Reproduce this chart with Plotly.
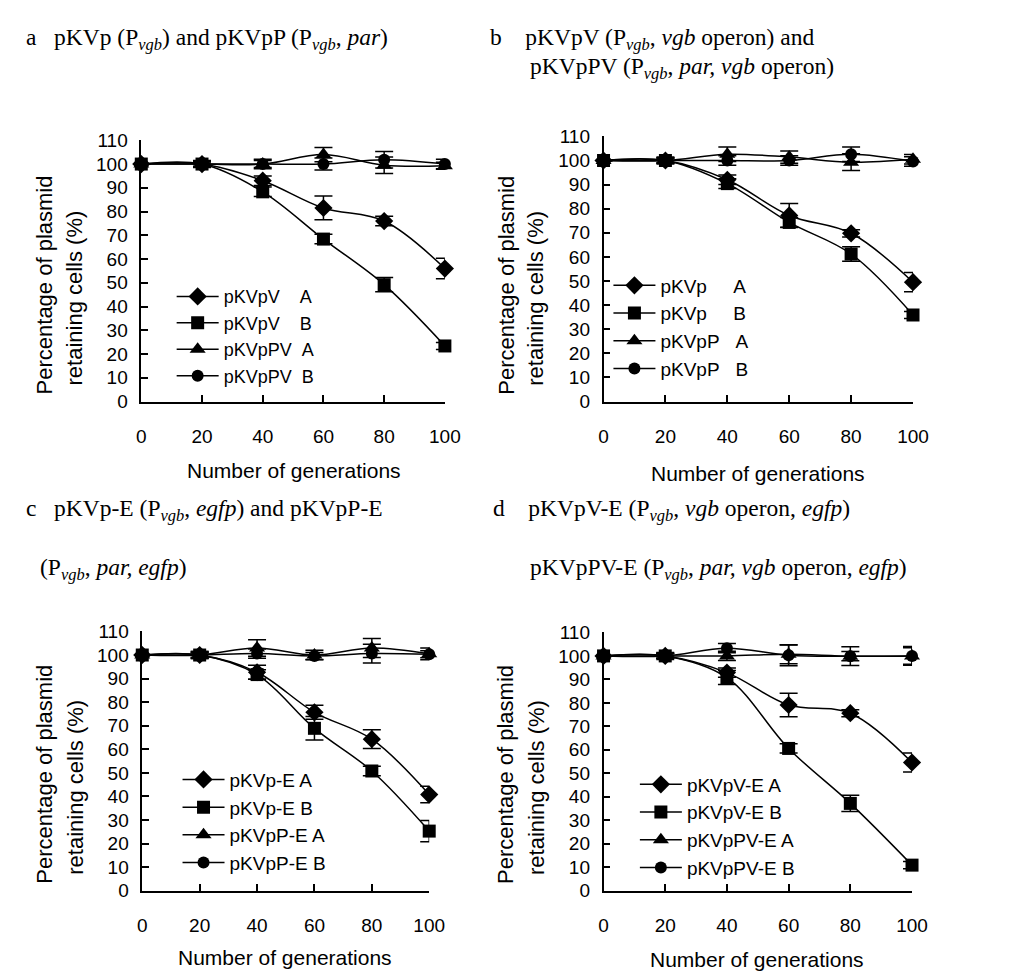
import plotly.graph_objects as go

W, H = 1016, 972

generations = [0, 20, 40, 60, 80, 100]
y_ticks = [0, 10, 20, 30, 40, 50, 60, 70, 80, 90, 100, 110]

# ---- Panel a ----
a_labels = ["pKVpV\u00a0\u00a0\u00a0\u00a0A", "pKVpV\u00a0\u00a0\u00a0\u00a0B",
            "pKVpPV\u00a0\u00a0A", "pKVpPV\u00a0\u00a0B"]
a_A = [100, 100, 93, 81.5, 76, 56]
a_A_err = [0, 1, 2, 5, 2, 4.3]
a_B = [100, 100, 88.3, 68.4, 49.2, 23.4]
a_B_err = [0, 1.5, 2, 2, 3, 1.5]
a_C = [100, 100, 100, 104, 99.5, 99.3]
a_C_err = [0, 1, 2, 3, 3.5, 1.5]
a_D = [100, 100, 100, 100, 101.8, 100]
a_D_err = [0, 1, 1.5, 2.5, 3.5, 2]

# ---- Panel b ----
b_labels = ["pKVp\u00a0\u00a0\u00a0\u00a0\u00a0A", "pKVp\u00a0\u00a0\u00a0\u00a0\u00a0B",
            "pKVpP\u00a0\u00a0\u00a0A", "pKVpP\u00a0\u00a0\u00a0B"]
b_A = [100, 100, 92, 77.2, 69.8, 49.5]
b_A_err = [0, 1, 2, 5, 1.5, 4]
b_B = [100, 100, 90.4, 74.3, 61.2, 35.9]
b_B_err = [0, 1.5, 2, 2, 3, 1.5]
b_C = [100, 100, 102.6, 101.4, 99.3, 100.5]
b_C_err = [0, 1, 3, 2.5, 3.5, 2]
b_D = [100, 100, 100, 100, 102.6, 99.6]
b_D_err = [0, 1, 2, 2, 3, 2]

# ---- Panel c ----
c_labels = ["pKVp-E A", "pKVp-E B", "pKVpP-E A", "pKVpP-E B"]
c_A = [100, 100, 92.7, 75.7, 64.3, 40.8]
c_A_err = [0, 1, 3, 3, 4, 3.5]
c_B = [100, 100, 91.7, 68.9, 50.8, 25.3]
c_B_err = [0, 1.5, 2, 5, 2, 4.5]
c_C = [100, 100, 103, 100, 103, 100.5]
c_C_err = [0, 1, 3.5, 2, 4, 2.5]
c_D = [100, 100, 100.6, 99.6, 100.6, 100.3]
c_D_err = [0, 1.5, 2, 1.5, 4, 1.5]

# ---- Panel d ----
d_labels = ["pKVpV-E A", "pKVpV-E B", "pKVpPV-E A", "pKVpPV-E B"]
d_A = [100, 100, 92.9, 79.1, 75.6, 54.6]
d_A_err = [0, 1, 2, 5, 1.5, 4]
d_B = [100, 100, 90.8, 60.6, 37.2, 10.9]
d_B_err = [0, 1.5, 3, 2, 3.5, 1.5]
d_C = [100, 100, 100, 100.7, 99.9, 100]
d_C_err = [0, 1, 2, 4, 2, 3.5]
d_D = [100, 100, 103.3, 100.3, 99.9, 100]
d_D_err = [0, 1, 2, 4.5, 4, 4]

titles = {
    "a": [("a\u00a0\u00a0\u00a0pKVp (P<sub><i>vgb</i></sub>) and pKVpP (P<sub><i>vgb</i></sub>, <i>par</i>)", 11, 21)],
    "b": [("b\u00a0\u00a0\u00a0\u00a0pKVpV (P<sub><i>vgb</i></sub>, <i>vgb</i> operon) and", 485, 21),
          ("pKVpPV (P<sub><i>vgb</i></sub>, <i>par, vgb</i> operon)", 526, 51)],
    "c": [("c\u00a0\u00a0\u00a0pKVp-E (P<sub><i>vgb</i></sub>, <i>egfp</i>) and pKVpP-E", 11, 503),
          ("(P<sub><i>vgb</i></sub>, <i>par, egfp</i>)", 26, 563)],
    "d": [("d\u00a0\u00a0\u00a0\u00a0pKVpV-E (P<sub><i>vgb</i></sub>, <i>vgb</i> operon, <i>egfp</i>)", 488, 503),
          ("pKVpPV-E (P<sub><i>vgb</i></sub>, <i>par, vgb</i> operon, <i>egfp</i>)", 526, 563)],
}

# layout geometry (pixels): x0, x1 of x-axis; y bottom, y top of y-axis
panels = [
    dict(key="a", labels=a_labels, ys=[a_A, a_B, a_C, a_D], errs=[a_A_err, a_B_err, a_C_err, a_D_err],
         x0=131, x1=441, yb=392, yt=125, leg=(162, 266), lfs=18,
         ytitle=(32, 63, 273, 286), xtitle=(287, 463)),
    dict(key="b", labels=b_labels, ys=[b_A, b_B, b_C, b_D], errs=[b_A_err, b_B_err, b_C_err, b_D_err],
         x0=603, x1=919, yb=392, yt=121, leg=(608, 254), lfs=19,
         ytitle=(503, 534, 273, 286), xtitle=(761, 466)),
    dict(key="c", labels=c_labels, ys=[c_A, c_B, c_C, c_D], errs=[c_A_err, c_B_err, c_C_err, c_D_err],
         x0=132, x1=425, yb=892, yt=627, leg=(168, 759), lfs=19,
         ytitle=(32, 63, 773, 786), xtitle=(278, 960)),
    dict(key="d", labels=d_labels, ys=[d_A, d_B, d_C, d_D], errs=[d_A_err, d_B_err, d_C_err, d_D_err],
         x0=603, x1=918, yb=892, yt=628, leg=(635, 764), lfs=19,
         ytitle=(503, 534, 773, 786), xtitle=(760, 962)),
]

symbols = ["diamond", "square", "triangle-up", "circle"]
msizes = [14, 13, 14, 12]

fig = go.Figure()
annotations = []
layout_axes = {}
SANS = "Liberation Sans, Arial, sans-serif"
SERIF = "Liberation Serif, Times New Roman, serif"

for i, p in enumerate(panels):
    n = "" if i == 0 else str(i + 1)
    xa, ya = "x" + n, "y" + n
    leg = "legend" + n
    for j in range(4):
        fig.add_trace(go.Scatter(
            x=generations, y=p["ys"][j], name=p["labels"][j],
            xaxis=xa, yaxis=ya, legend=leg,
            mode="lines+markers", cliponaxis=False,
            line=dict(color="black", width=1.5, shape="spline", smoothing=1.0),
            marker=dict(symbol=symbols[j], size=msizes[j], color="black"),
            error_y=dict(type="data", array=p["errs"][j], color="black", thickness=1.5, width=9),
        ))
    layout_axes["xaxis" + n] = dict(
        domain=[p["x0"] / W, p["x1"] / W], anchor=ya, range=[0, 100],
        tickvals=generations, ticks="inside", ticklen=7, tickwidth=1.5, tickcolor="black",
        showline=True, linecolor="black", linewidth=1.5, showgrid=False, zeroline=False,
        tickfont=dict(family=SANS, size=19, color="black"), ticklabelstandoff=17,
    )
    layout_axes["yaxis" + n] = dict(
        domain=[1 - p["yb"] / H, 1 - p["yt"] / H], anchor=xa, range=[0, 110],
        tickvals=y_ticks, ticks="inside", ticklen=7, tickwidth=1.5, tickcolor="black",
        showline=True, linecolor="black", linewidth=1.5, showgrid=False, zeroline=False,
        tickfont=dict(family=SANS, size=19, color="black"), ticklabelstandoff=8,
    )
    layout_axes[leg] = dict(
        x=p["leg"][0] / W, y=1 - p["leg"][1] / H, xanchor="left", yanchor="top",
        bgcolor="rgba(0,0,0,0)", borderwidth=0, tracegroupgap=0, itemwidth=42,
        font=dict(family=SANS, size=p["lfs"], color="black"),
    )
    lx1, lx2, ly1, ly2 = p["ytitle"]
    annotations.append(dict(text="Percentage of plasmid", x=lx1 / W, y=1 - ly1 / H, xref="paper", yref="paper",
                            textangle=-90, showarrow=False, xanchor="center", yanchor="middle",
                            font=dict(family=SANS, size=22, color="black")))
    annotations.append(dict(text="retaining cells (%)", x=lx2 / W, y=1 - ly2 / H, xref="paper", yref="paper",
                            textangle=-90, showarrow=False, xanchor="center", yanchor="middle",
                            font=dict(family=SANS, size=22, color="black")))
    tx, ty = p["xtitle"]
    annotations.append(dict(text="Number of generations", x=tx / W, y=1 - ty / H, xref="paper", yref="paper",
                            showarrow=False, xanchor="center", yanchor="middle",
                            font=dict(family=SANS, size=21, color="black")))
    for txt, px, py in titles[p["key"]]:
        annotations.append(dict(text=txt, x=px / W, y=1 - py / H, xref="paper", yref="paper",
                                showarrow=False, xanchor="left", yanchor="middle", align="left",
                                font=dict(family=SERIF, size=23.5, color="black")))

fig.update_layout(
    width=W, height=H, margin=dict(l=0, r=0, t=0, b=0),
    paper_bgcolor="white", plot_bgcolor="white",
    showlegend=True, annotations=annotations, **layout_axes,
)

fig.write_html("out.html")
